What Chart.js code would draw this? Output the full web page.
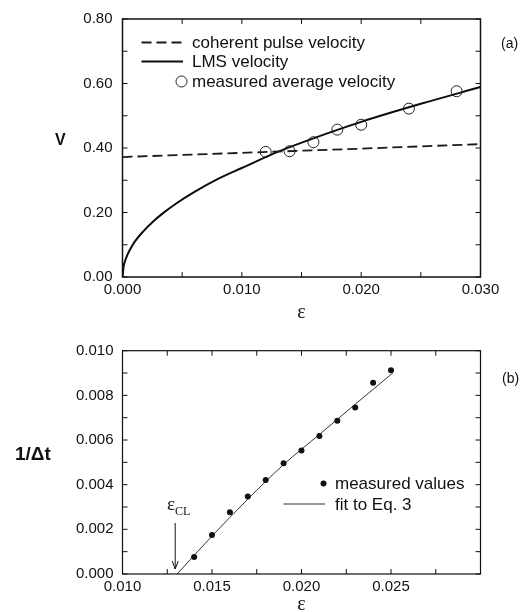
<!DOCTYPE html>
<html>
<head>
<meta charset="utf-8">
<script src="https://cdn.jsdelivr.net/npm/chart.js@4.4.1/dist/chart.umd.min.js"></script>
<style>
  html, body { margin: 0; padding: 0; background: #fff; }
  #wrap { position: relative; width: 528px; height: 612px; overflow: hidden; }
  canvas { position: absolute; left: 0; }
  #chartA { top: 0; }
  #chartB { top: 320px; }
  .lbl { position: absolute; color: #111; font-family: "Liberation Sans", Arial, sans-serif; white-space: nowrap; line-height: 1; }
  .serif { font-family: "Liberation Serif", "DejaVu Serif", serif; }
</style>
</head>
<body>
<div id="wrap">
  <canvas id="chartA" width="528" height="320"></canvas>
  <canvas id="chartB" width="528" height="292"></canvas>
  <div class="lbl" style="left:501px;top:36px;font-size:14px">(a)</div>
  <div class="lbl" style="left:502px;top:371px;font-size:14px">(b)</div>
  <div class="lbl" style="left:55px;top:132px;font-size:16px;font-weight:bold">V</div>
  <div class="lbl" style="left:15px;top:444px;font-size:19px;font-weight:bold">1/Δt</div>
  <div class="lbl serif" style="left:167px;top:494px;font-size:19px">ε<span style="font-size:12px;position:relative;top:5px">CL</span></div>
</div>
<script>
// panel (a): velocities vs epsilon
const pulseEps = [0, 0.010, 0.020, 0.030];
const pulseV = [0.372, 0.385, 0.398, 0.412];
const lmsEps = [0, 0.0001, 0.0002, 0.0004, 0.0006, 0.001, 0.0017, 0.0025, 0.0034, 0.0045, 0.006, 0.008, 0.010, 0.013, 0.016, 0.020, 0.025, 0.030];
const lmsV = [0, 0.034, 0.048, 0.068, 0.083, 0.108, 0.140, 0.170, 0.198, 0.228, 0.263, 0.304, 0.338, 0.388, 0.430, 0.481, 0.537, 0.589];
const measEps = [0.012, 0.014, 0.016, 0.018, 0.020, 0.024, 0.028];
const measV = [0.388, 0.390, 0.418, 0.457, 0.472, 0.522, 0.576];

// panel (b): 1/dt vs epsilon
const dtEps = [0.014, 0.015, 0.016, 0.017, 0.018, 0.019, 0.020, 0.021, 0.022, 0.023, 0.024, 0.025];
const dtInv = [0.00076, 0.00175, 0.00277, 0.00347, 0.00421, 0.00496, 0.00553, 0.00618, 0.00686, 0.00746, 0.00857, 0.00912];
const fitEps = [0.01305, 0.015, 0.017, 0.019, 0.021, 0.023, 0.0251];
const fitInv = [0, 0.0017, 0.00335, 0.0049, 0.00625, 0.0076, 0.0090];
const epsCL = 0.013;

const xTicksA = [0, 0.010, 0.020, 0.030];
const yTicksA = [0, 0.2, 0.4, 0.6, 0.8];
const xTicksB = [0.010, 0.015, 0.020, 0.025];
const yTicksB = [0, 0.002, 0.004, 0.006, 0.008, 0.010];

const INK = "#111";
const sans = "'Liberation Sans', Arial, sans-serif";
const tickFont = { family: sans, size: 15 };

function pts(xs, ys) {
  return xs.map((x, i) => ({ x: x, y: ys[i] }));
}

// only print labels listed, keep the other ticks as small marks
function labelIf(list, digits) {
  return function (v) {
    return list.some((t) => Math.abs(t - v) < 1e-9) ? v.toFixed(digits) : "";
  };
}

// box round the plot plus inner tick marks on all four sides
const frameTicks = {
  id: "frameTicks",
  afterDatasetsDraw(chart, args, opts) {
    const { ctx, chartArea: a, scales } = chart;
    const len = 5;
    ctx.save();
    ctx.strokeStyle = INK;
    ctx.lineWidth = opts.width || 1.5;
    ctx.strokeRect(a.left, a.top, a.right - a.left, a.bottom - a.top);
    ctx.lineWidth = 1;
    ctx.beginPath();
    scales.x.ticks.forEach((t) => {
      const px = scales.x.getPixelForValue(t.value);
      ctx.moveTo(px, a.bottom); ctx.lineTo(px, a.bottom - len);
      ctx.moveTo(px, a.top); ctx.lineTo(px, a.top + len);
    });
    scales.y.ticks.forEach((t) => {
      const py = scales.y.getPixelForValue(t.value);
      ctx.moveTo(a.left, py); ctx.lineTo(a.left + len, py);
      ctx.moveTo(a.right, py); ctx.lineTo(a.right - len, py);
    });
    ctx.stroke();
    ctx.restore();
  },
};

// hand placed legend drawn with the dataset styles
const boxLegend = {
  id: "boxLegend",
  afterDraw(chart, args, opts) {
    if (!opts.items) return;
    const ctx = chart.ctx;
    ctx.save();
    ctx.font = "17px " + sans;
    ctx.fillStyle = INK;
    ctx.textBaseline = "middle";
    opts.items.forEach((it) => {
      const ds = chart.data.datasets[it.ds];
      ctx.strokeStyle = ds.borderColor;
      if (it.kind === "line") {
        ctx.lineWidth = ds.borderWidth;
        ctx.setLineDash(ds.borderDash || []);
        ctx.beginPath();
        ctx.moveTo(it.x1, it.y); ctx.lineTo(it.x2, it.y);
        ctx.stroke();
        ctx.setLineDash([]);
      } else {
        ctx.lineWidth = ds.pointBorderWidth || 1;
        ctx.beginPath();
        ctx.arc(it.x2, it.y, ds.pointRadius, 0, Math.PI * 2);
        if (it.kind === "dot") { ctx.fillStyle = ds.pointBackgroundColor; ctx.fill(); ctx.fillStyle = INK; }
        else ctx.stroke();
      }
      ctx.fillText(ds.label, it.tx, it.y + 1);
    });
    ctx.restore();
  },
};

// arrow pointing at eps_CL on the x axis
const clArrow = {
  id: "clArrow",
  afterDraw(chart, args, opts) {
    if (opts.value == null) return;
    const ctx = chart.ctx;
    const px = chart.scales.x.getPixelForValue(opts.value) - 1;
    ctx.save();
    ctx.strokeStyle = INK;
    ctx.lineWidth = 1;
    ctx.beginPath();
    ctx.moveTo(px, opts.y1); ctx.lineTo(px, opts.y2);
    ctx.moveTo(px - 3, opts.y2 - 8); ctx.lineTo(px, opts.y2); ctx.lineTo(px + 3, opts.y2 - 8);
    ctx.stroke();
    ctx.restore();
  },
};

function scaleX(min, max, step, labels, digits, height) {
  return {
    type: "linear", min: min, max: max,
    afterFit: (s) => { s.height = height; },
    grid: { display: false, drawTicks: false },
    border: { display: false },
    ticks: { stepSize: step, autoSkip: false, maxRotation: 0, padding: 4, color: INK, font: tickFont, callback: labelIf(labels, digits) },
    title: { display: true, text: "ε", color: INK, padding: { top: 0, bottom: -3 }, font: { family: "'Liberation Serif', serif", size: 20, lineHeight: 1 } },
  };
}

function scaleY(min, max, step, labels, digits, pad) {
  return {
    type: "linear", min: min, max: max,
    afterFit: (s) => { s.width = 122.5; },
    grid: { display: false, drawTicks: false },
    border: { display: false },
    ticks: { stepSize: step, autoSkip: false, padding: pad, color: INK, font: tickFont, callback: labelIf(labels, digits) },
  };
}

Chart.register(frameTicks, boxLegend, clArrow);

new Chart(document.getElementById("chartA"), {
  type: "scatter",
  data: {
    datasets: [
      { label: "coherent pulse velocity", data: pts(pulseEps, pulseV), showLine: true, pointRadius: 0, borderColor: "#1a1a1a", borderWidth: 1.8, borderDash: [10, 5] },
      { label: "LMS velocity", data: pts(lmsEps, lmsV), showLine: true, pointRadius: 0, borderColor: "#0d0d0d", borderWidth: 2, cubicInterpolationMode: "monotone" },
      { label: "measured average velocity", data: pts(measEps, measV), showLine: false, pointRadius: 5.5, pointBorderWidth: 1, borderColor: "#222", pointBorderColor: "#222", pointBackgroundColor: "rgba(0,0,0,0)" },
    ],
  },
  options: {
    responsive: false,
    animation: false,
    layout: { padding: { top: 15, right: 47.5, bottom: 0, left: 0 } },
    scales: {
      x: scaleX(0, 0.030, 0.005, xTicksA, 3, 43),
      y: scaleY(0, 0.8, 0.1, yTicksA, 2, 10),
    },
    plugins: {
      legend: { display: false },
      tooltip: { enabled: false },
      frameTicks: { width: 1.5 },
      boxLegend: {
        items: [
          { ds: 0, kind: "line", x1: 141.5, x2: 183, y: 42.5, tx: 192 },
          { ds: 1, kind: "line", x1: 141.5, x2: 183, y: 61.5, tx: 192 },
          { ds: 2, kind: "circle", x2: 181.5, y: 81.5, tx: 192 },
        ],
      },
    },
  },
});

new Chart(document.getElementById("chartB"), {
  type: "scatter",
  data: {
    datasets: [
      { label: "measured values", data: pts(dtEps, dtInv), showLine: false, pointRadius: 3, pointBorderWidth: 0, borderColor: "#111", pointBackgroundColor: "#111" },
      { label: "fit to Eq. 3", data: pts(fitEps, fitInv), showLine: true, pointRadius: 0, borderColor: "#333", borderWidth: 1, cubicInterpolationMode: "monotone" },
    ],
  },
  options: {
    responsive: false,
    animation: false,
    layout: { padding: { top: 30.7, right: 47.5, bottom: 0, left: 0 } },
    scales: {
      x: scaleX(0.010, 0.030, 0.0025, xTicksB, 3, 38),
      y: scaleY(0, 0.010, 0.001, yTicksB, 3, 9),
    },
    plugins: {
      legend: { display: false },
      tooltip: { enabled: false },
      frameTicks: { width: 1.2 },
      boxLegend: {
        items: [
          { ds: 0, kind: "dot", x2: 323.5, y: 163.5, tx: 335 },
          { ds: 1, kind: "line", x1: 283.5, x2: 325, y: 184, tx: 335 },
        ],
      },
      clArrow: { value: epsCL, y1: 203, y2: 249 },
    },
  },
});
</script>
</body>
</html>
